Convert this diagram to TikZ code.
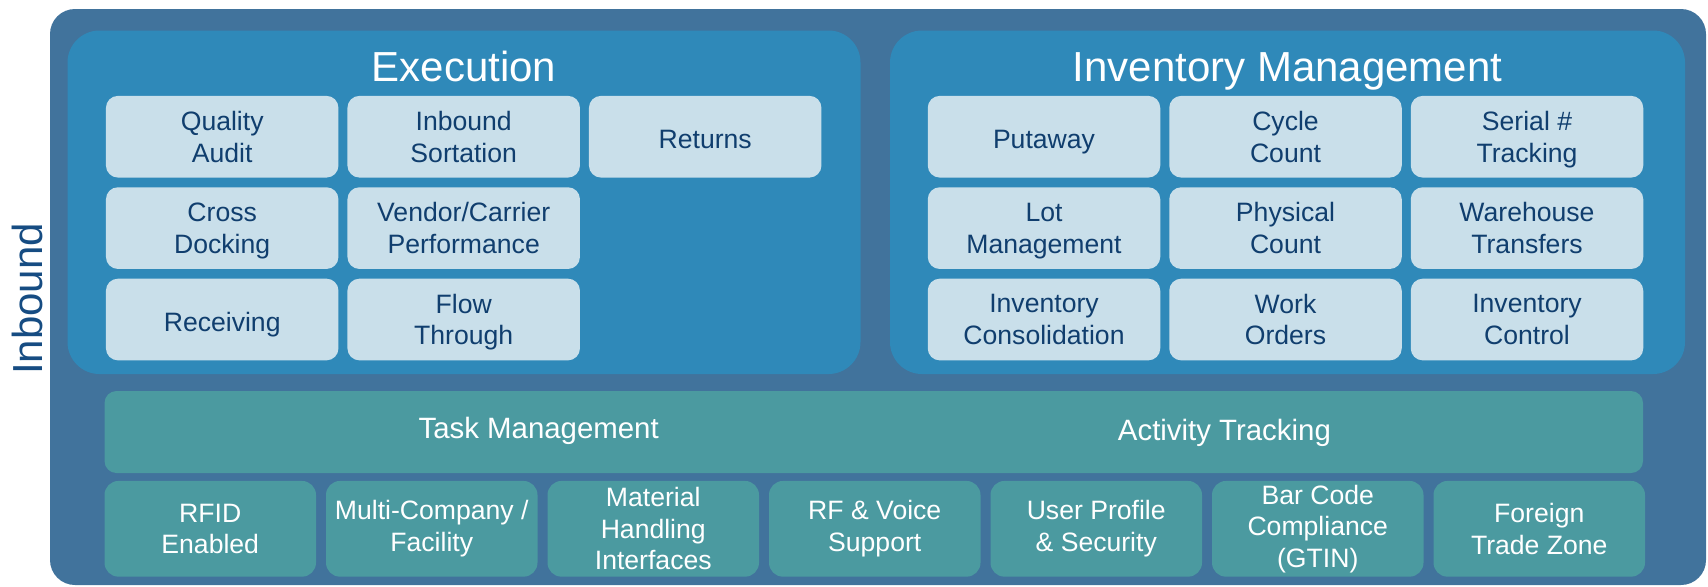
\documentclass[tikz,border=0pt]{standalone}
\usepackage{fontspec}
\setmainfont{Liberation Sans}
\usetikzlibrary{positioning}
\definecolor{frameblue}{RGB}{65,115,156}
\definecolor{panelblue}{RGB}{47,137,185}
\definecolor{itemfill}{RGB}{201,223,234}
\definecolor{itemtext}{RGB}{16,62,110}
\definecolor{basegreen}{RGB}{75,154,160}
\definecolor{sidetext}{RGB}{22,76,130}
\tikzset{
  every picture/.style={font={\fontsize{13.3}{15.8}\selectfont}},
  every node/.style={align=center, outer sep=0pt}}

\begin{document}
\begin{tikzpicture}[x=0.5pt, y=-0.5pt, node distance=4.85pt and 4.5pt,
    paneltitle/.style={text=white, font={\fontsize{21}{25}\selectfont}, anchor=base},
    itembox/.style={fill=itemfill, text=itemtext, rounded corners=6pt,
      minimum width=116.25pt, minimum height=40.85pt, inner sep=0pt,
      text depth=0pt, execute at begin node={\rule{0pt}{12pt}}},
    barbox/.style={fill=basegreen, rounded corners=6pt,
      minimum width=769.25pt, minimum height=41pt, inner sep=0pt},
    bartext/.style={text=white, font={\fontsize{14.7}{17}\selectfont}, anchor=base},
    featurebox/.style={fill=basegreen, text=white, rounded corners=7pt,
      minimum width=105.75pt, minimum height=47.85pt, inner sep=0pt}]

    \useasboundingbox (0,0) rectangle (1708,586);

    \fill[frameblue, rounded corners=12.5pt] (50,9) rectangle (1706,585);
    \fill[panelblue, rounded corners=16pt] (67.5,30.5) rectangle (860.5,374);
    \fill[panelblue, rounded corners=16pt] (890,30.5) rectangle (1685,374);

    \node[rotate=90, text=sidetext, font={\fontsize{21}{25}\selectfont}] (Side) at (27,299) {Inbound};

    \node[paneltitle] (ExTitle) at (464,81.5) {Execution};
    \node[paneltitle] (InvTitle) at (1287.5,81.5) {Inventory Management};

    \begin{scope}
      \node[itembox] (EA) at (222.2,136.7) {Quality\\Audit};
      \node[itembox] (EB) [right=of EA] {Inbound\\Sortation};
      \node[itembox] (EC) [right=of EB] {Returns};
      \node[itembox] (ED) [below=of EA] {Cross\\Docking};
      \node[itembox] (EE) [right=of ED] {Vendor/Carrier\\Performance};
      \node[itembox] (EG) [below=of ED] {Receiving};
      \node[itembox] (EH) [right=of EG] {Flow\\Through};
    \end{scope}

    \begin{scope}
      \node[itembox] (MA) at (1044,136.7) {Putaway};
      \node[itembox] (MB) [right=of MA] {Cycle\\Count};
      \node[itembox] (MC) [right=of MB] {Serial \#\\Tracking};
      \node[itembox] (MD) [below=of MA] {Lot\\Management};
      \node[itembox] (ME) [right=of MD] {Physical\\Count};
      \node[itembox] (MF) [right=of ME] {Warehouse\\Transfers};
      \node[itembox] (MG) [below=of MD] {Inventory\\Consolidation};
      \node[itembox] (MH) [right=of MG] {Work\\Orders};
      \node[itembox] (MI) [right=of MH] {Inventory\\Control};
    \end{scope}

    \node[barbox] (TB) at (873.75,432) {};
    \node[bartext] (TM) at (538.7,438) {Task Management};
    \node[bartext] (AT) at (1224.4,440) {Activity Tracking};

    \begin{scope}[node distance=5pt]
      \node[featurebox] (BA) at (210.25,528.8) {RFID\\Enabled};
      \node[featurebox] (BB) [right=of BA] {Multi-Company /\\Facility};
      \node[featurebox] (BC) [right=of BB] {Material\\Handling\\Interfaces};
      \node[featurebox] (BD) [right=of BC] {RF \& Voice\\Support};
      \node[featurebox] (BE) [right=of BD] {User Profile\\\& Security};
      \node[featurebox] (BF) [right=of BE] {Bar Code\\Compliance\\(GTIN)};
      \node[featurebox] (BG) [right=of BF] {Foreign\\Trade Zone};
    \end{scope}
  \end{tikzpicture}
\end{document}
